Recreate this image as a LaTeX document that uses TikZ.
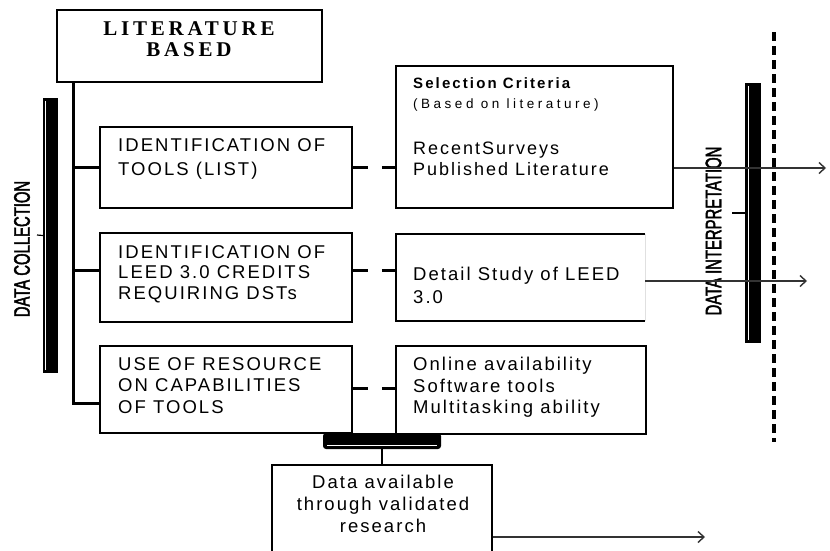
\documentclass[tikz,border=0pt]{standalone}
\usepackage{fontspec}
\setmainfont{Liberation Sans}
\newfontfamily\boxfont[LetterSpace=11]{Liberation Sans}
\newfontfamily\litfont[LetterSpace=18]{Liberation Serif}
\newfontfamily\selfont[LetterSpace=14]{Liberation Sans}
\newfontfamily\basedfont[LetterSpace=26]{Liberation Sans}
\newfontfamily\condfont[FakeStretch=0.66,FakeBold=2]{Liberation Sans}
\usetikzlibrary{arrows.meta}
\begin{document}
\begin{tikzpicture}[x=1pt,y=-1pt]
\tikzset{
  box/.style={draw=black, line width=1.6pt, inner sep=0pt},
  txt/.style={inner sep=0pt, anchor=north west, align=left},
  tree/.style={line width=3pt},
  dashlink/.style={line width=3pt, dash pattern=on 15pt off 14pt},
  arr/.style={line width=1.4pt, draw=black!80, -{Straight Barb[length=6pt,width=11pt,line width=1.4pt]}},
  bar/.style={fill=black, inner sep=0pt},
  vlabel/.style={rotate=90, inner sep=0pt, font=\condfont\fontsize{22.5}{22}\selectfont},
}
\useasboundingbox (0,0) rectangle (830,550);
\fill[white] (0,0) rectangle (830,550);

% boxes
\node[box, minimum width=265, minimum height=72] (lit) at (189.5,46) {};
\node[box, minimum width=252, minimum height=81] (b1) at (226,167.5) {};
\node[box, minimum width=252, minimum height=89] (b2) at (226,277.5) {};
\node[box, minimum width=252, minimum height=87] (b3) at (226,389.5) {};
\node[box, minimum width=277, minimum height=142] (bA) at (534.5,137) {};
\node[inner sep=0pt, minimum width=249, minimum height=87] (bB) at (520.5,277.5) {};
\draw[line width=1.6pt] (bB.north east) -- (bB.north west) -- (bB.south west) -- (bB.south east);
\draw[black!12, line width=0.6pt] (bB.north east) -- (bB.south east);
\node[box, minimum width=250, minimum height=88] (bC) at (521,390) {};
\node[box, minimum width=220, minimum height=88] (bD) at (382,509) {};

% texts
\node[inner sep=0pt, anchor=north, align=center, font=\litfont\bfseries\fontsize{21}{21}\selectfont] (tlit) at (189,21) {LITERATURE\\BASED};
\node[txt, font=\boxfont\fontsize{18.5}{24}\selectfont] (t1) at (118,138) {IDENTIFICATION OF\\TOOLS (LIST)};
\node[txt, font=\boxfont\fontsize{18.5}{20.5}\selectfont] (t2) at (118,245) {IDENTIFICATION OF\\LEED 3.0 CREDITS\\REQUIRING DSTs};
\node[txt, font=\boxfont\fontsize{18.5}{21.5}\selectfont] (t3) at (118,357) {USE OF RESOURCE\\ON CAPABILITIES\\OF TOOLS};
\node[txt, font=\selfont\bfseries\fontsize{15}{16}\selectfont] (tA1) at (413,77) {Selection Criteria};
\node[txt, font=\basedfont\fontsize{13.5}{15}\selectfont] (tA2) at (413,99) {(Based on literature)};
\node[txt, font=\boxfont\fontsize{18}{21}\selectfont] (tA3) at (413,142) {RecentSurveys\\Published Literature};
\node[txt, font=\boxfont\fontsize{18.5}{23}\selectfont] (tB) at (413,267) {Detail Study of LEED\\3.0};
\node[txt, font=\boxfont\fontsize{18.5}{21.5}\selectfont] (tC) at (413,357) {Online availability\\Software tools\\Multitasking ability};
\node[inner sep=0pt, anchor=north, align=center, font=\boxfont\fontsize{18.5}{22}\selectfont] (tD) at (383,475) {Data available\\through validated\\research};

% side labels and bars
\node[vlabel] (dclabel) at (22,249) {DATA COLLECTION};
\node[vlabel] (dilabel) at (713.5,231) {DATA INTERPRETATION};
\node[bar, minimum width=15, minimum height=275] (dcbar) at (50.5,235.5) {};
\draw[white, line width=0.8pt] ([xshift=3pt,yshift=-3pt]dcbar.north west) -- ([xshift=3pt,yshift=3pt]dcbar.south west);
\node[bar, minimum width=16, minimum height=260] (dibar) at (753,213) {};
\draw[white, line width=0.8pt] ([xshift=3.5pt,yshift=-3pt]dibar.north west) -- ([xshift=3.5pt,yshift=3pt]dibar.south west);
\coordinate (dct) at (37,235);
\draw[line width=1.2pt] (dcbar.west) -- (dct);
\coordinate (dit) at (732,213);
\draw[line width=1.2pt] (dibar.west) -- (dit);

% tree
\coordinate (trunk) at (73,82);
\coordinate (j2) at (73,270);
\draw[tree] (trunk) |- ([yshift=-13.5pt]b3.west);
\draw[tree] (trunk |- b1.west) -- (b1.west);
\draw[tree] (j2) -- (j2 -| b2.west);

% dashed links
\draw[dashlink] (b1.east) -- (b1.east -| bA.west);
\draw[dashlink] ([yshift=7.5pt]b2.east) -- ([yshift=7.5pt]bB.west);
\draw[dashlink] ([yshift=1.5pt]b3.east) -- ([yshift=2pt]bC.west);

% bracket
\node[bar, minimum width=118, minimum height=16, rounded corners=3pt] (brk) at (382,441) {};
\draw[white, line width=0.9pt] ([xshift=4pt,yshift=4pt]brk.south west) -- ([xshift=-4pt,yshift=4pt]brk.south east);
\draw[line width=2.6pt] (brk.south) -- (bD.north);

% arrows
\coordinate (endA) at (826,168);
\coordinate (endB) at (807,281);
\coordinate (endD) at (705,537);
\draw[arr] (bA.east |- endA) -- (endA);
\draw[arr] (bB.east |- endB) -- (endB);
\draw[arr] (bD.east |- endD) -- (endD);

% dashed vertical line
\coordinate (dtop) at (774,32);
\coordinate (dbot) at (774,442);
\draw[line width=3.4pt, dash pattern=on 9pt off 5pt] (dtop) -- (dbot);
\end{tikzpicture}
\end{document}
